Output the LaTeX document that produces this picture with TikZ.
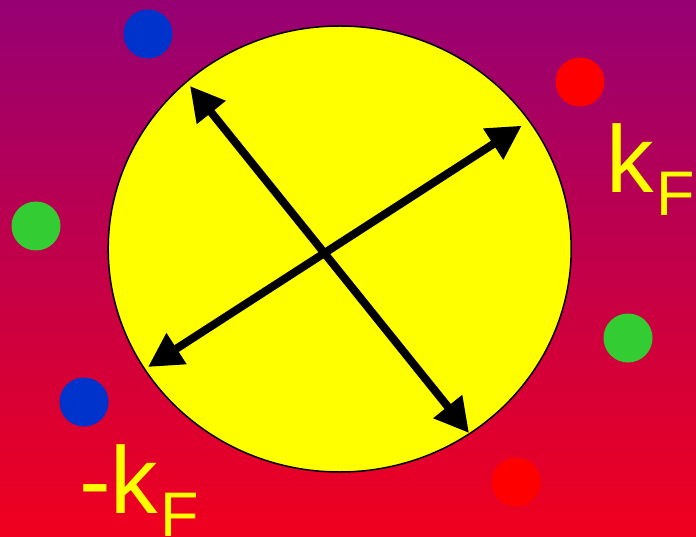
\documentclass[tikz,border=0pt]{standalone}
\usepackage{fontspec}
\setmainfont{Liberation Sans}
\usetikzlibrary{arrows.meta}
\definecolor{bgtop}{RGB}{150,0,115}
\definecolor{bgbot}{RGB}{240,0,30}
\definecolor{dotblue}{RGB}{0,51,204}
\definecolor{dotgreen}{RGB}{51,204,51}
\definecolor{dotred}{RGB}{255,0,0}
\definecolor{fermi}{RGB}{255,255,0}
\tikzset{
  dot/.style={circle, minimum size=49pt, inner sep=0pt, fill=#1},
  bigtxt/.style={text=fermi, inner sep=0pt, font=\fontsize{95}{95}\selectfont},
  subtxt/.style={text=fermi, inner sep=0pt, font=\fontsize{63}{63}\selectfont},
  momentum/.style={line width=8pt, {Triangle[length=34pt,width=35pt]}-{Triangle[length=34pt,width=35pt]}}
}
\begin{document}
\begin{tikzpicture}[x=1pt,y=-1pt]
\useasboundingbox (0,0) rectangle (696,537);
\shade[top color=bgtop, bottom color=bgbot] (0,0) rectangle (696,537);
\fill[fermi, draw=black, line width=1.5pt] (339.7,249) ellipse [x radius=231.5, y radius=223];
\node[dot=dotblue] (b1) at (148,34) {};
\node[dot=dotred] (r1) at (580,82) {};
\node[dot=dotgreen] (g1) at (36,226) {};
\node[dot=dotgreen] (g2) at (628,338) {};
\node[dot=dotblue] (b2) at (84,402) {};
\node[dot=dotred] (r2) at (516,482) {};
\coordinate (a1s) at (190,86);
\coordinate (a1e) at (469,433);
\coordinate (a2s) at (148,367);
\coordinate (a2e) at (521.7,125.7);
\draw[momentum] (a1s) -- (a1e);
\draw[momentum] (a2s) -- (a2e);
\node[bigtxt, anchor=base west] (k1) at (606.5,192.7) {k};
\node[subtxt, anchor=base west] (f1) at (656,216) {F};
\node[bigtxt, anchor=base west] (k2) at (79,513) {-k};
\node[subtxt, anchor=base west] (f2) at (160,536) {F};
\end{tikzpicture}
\end{document}
